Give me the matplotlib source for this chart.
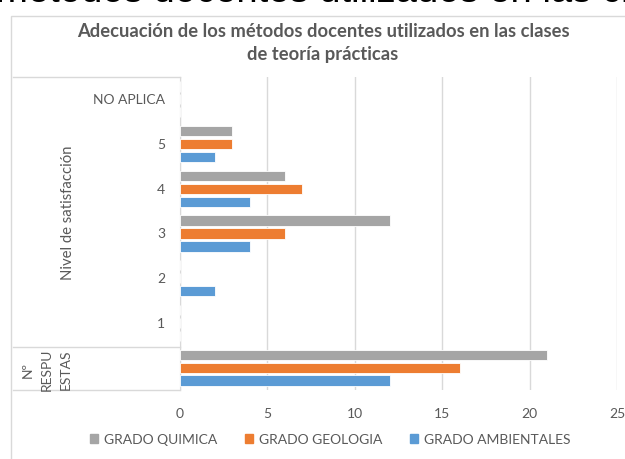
import matplotlib
matplotlib.use("Agg")
import matplotlib.pyplot as plt
from matplotlib.lines import Line2D
from matplotlib.patches import Rectangle

plt.rcParams['font.family'] = ['Lato', 'DejaVu Sans']

categories = ['Nº\nRESPU\nESTAS', '1', '2', '3', '4', '5', 'NO APLICA']
inner_labels = ['', '1', '2', '3', '4', '5', 'NO APLICA']
group_label = 'Nivel de satisfacción'
series_names = ['GRADO QUIMICA', 'GRADO GEOLOGIA', 'GRADO AMBIENTALES']
quimica = [21, 0, 0, 12, 6, 3, 0]
geologia = [16, 0, 0, 6, 7, 3, 0]
ambientales = [12, 0, 2, 4, 4, 2, 0]
colors = ['#A5A5A5', '#ED7D31', '#5B9BD5']
xticks = [0, 5, 10, 15, 20, 25]

title = 'Adecuación de los métodos docentes utilizados en las clases\nde teoría prácticas'
txt = '#595959'
grid = '#D9D9D9'
fs = 10

fig = plt.figure(figsize=(6.25, 4.6), dpi=100)
W, H = 625, 460

def fx(px):
    return px / W

def fy(py):
    return 1 - py / H

# cut-off heading from the page above the chart
fig.text(fx(-4), fy(2), 'métodos docentes utilizados en las clases', fontsize=27.5,
         family='Liberation Sans', color='black', ha='left', va='baseline')

# chart border
fig.add_artist(Rectangle((fx(11), fy(470)), fx(700), fy(17) - fy(470), transform=fig.transFigure,
                         fill=False, edgecolor=grid, lw=1))

ax = fig.add_axes([fx(180), fy(391), fx(617) - fx(180), fy(78) - fy(391)])

pos = list(range(len(categories)))
h = 0.23
step = 0.29
series = [quimica, geologia, ambientales]
offsets = [step, 0, -step]
for vals, col, off, name in zip(series, colors, offsets, series_names):
    ax.barh([p + off for p in pos], vals, height=h, color=col, label=name,
            edgecolor='white', linewidth=0.6, zorder=3)

ax.set_xlim(0, 25)
ax.set_ylim(-0.5, 6.5)
ax.set_xticks(xticks)
ax.set_xticklabels([str(t) for t in xticks], color=txt, fontsize=fs)
ax.tick_params(axis='x', length=0, pad=12)
ax.set_yticks([])
ax.grid(axis='x', color=grid, lw=1, zorder=0)
for s in ['top', 'right', 'bottom']:
    ax.spines[s].set_visible(False)
ax.spines['left'].set_color(grid)

# multi-level category axis
for p, lab in zip(pos, inner_labels):
    if lab:
        ax.text(-0.85, p, lab, ha='right', va='center', color=txt, fontsize=fs,
                transform=ax.transData, clip_on=False)
fig.text(fx(68), fy(213), group_label, rotation=90, ha='center', va='center',
         color=txt, fontsize=10.7)
fig.text(fx(47), fy(370), categories[0], rotation=90, ha='center', va='center',
         color=txt, fontsize=fs, multialignment='center', linespacing=1.7)
for py in [78, 348, 391]:
    fig.add_artist(Line2D([fx(13), fx(180)], [fy(py), fy(py)], color=grid, lw=1))

fig.text(fx(323), fy(43), title, ha='center', va='center', color=txt, fontsize=13.2,
         fontweight='bold', linespacing=1.45)

handles = [Rectangle((0, 0), 1, 1, color=c) for c in colors]
fig.legend(handles, series_names, loc='center', bbox_to_anchor=(fx(330), fy(440)),
           ncol=3, frameon=False, fontsize=fs, labelcolor=txt, handlelength=0.6,
           handleheight=0.6, handletextpad=0.4, columnspacing=2.0)

fig.savefig('out.png', dpi=100)
